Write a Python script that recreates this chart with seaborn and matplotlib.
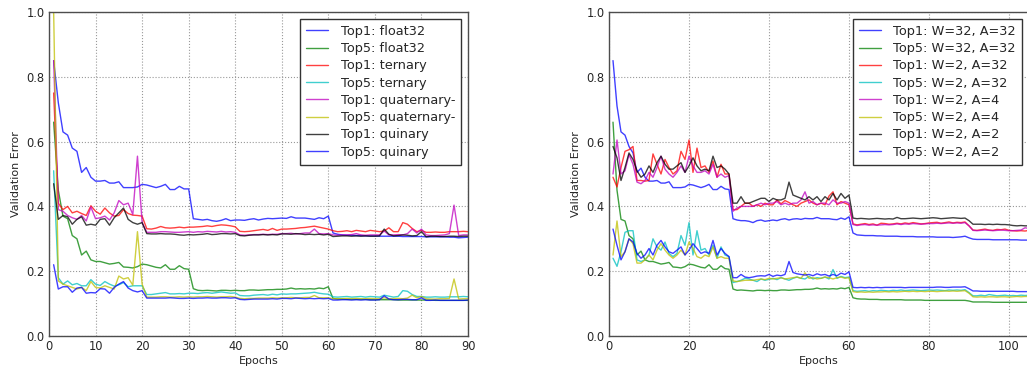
import numpy as np
import pandas as pd
import matplotlib
matplotlib.use("Agg")
import matplotlib.pyplot as plt
import seaborn as sns

# ---------------- data: left panel (epochs 1..90) ----------------
left_labels = ["Top1: float32", "Top5: float32", "Top1: ternary", "Top5: ternary",
               "Top1: quaternary-", "Top5: quaternary-", "Top1: quinary", "Top5: quinary"]

L_top1_float32 = [
    0.85, 0.72, 0.63, 0.62, 0.58, 0.57, 0.505, 0.52, 0.49, 0.478,
    0.478, 0.48, 0.472, 0.472, 0.476, 0.458, 0.458, 0.458, 0.46, 0.468,
    0.466, 0.462, 0.458, 0.462, 0.468, 0.452, 0.452, 0.462, 0.454, 0.454,
    0.362, 0.360, 0.358, 0.360, 0.356, 0.354, 0.357, 0.362, 0.356, 0.358,
    0.358, 0.357, 0.360, 0.362, 0.358, 0.361, 0.363, 0.362, 0.363, 0.364,
    0.363, 0.368, 0.364, 0.364, 0.364, 0.362, 0.360, 0.365, 0.362, 0.370,
    0.318, 0.314, 0.312, 0.311, 0.311, 0.310, 0.310, 0.309, 0.309, 0.309,
    0.308, 0.308, 0.308, 0.308, 0.308, 0.307, 0.307, 0.307, 0.307, 0.307,
    0.306, 0.306, 0.306, 0.306, 0.306, 0.305, 0.305, 0.303, 0.304, 0.305]
L_top5_float32 = [
    0.66, 0.45, 0.37, 0.362, 0.31, 0.30, 0.25, 0.262, 0.235, 0.23,
    0.23, 0.226, 0.222, 0.224, 0.227, 0.213, 0.212, 0.210, 0.214, 0.222,
    0.220, 0.216, 0.212, 0.210, 0.220, 0.206, 0.206, 0.217, 0.208, 0.206,
    0.146, 0.141, 0.140, 0.141, 0.140, 0.139, 0.141, 0.141, 0.140, 0.141,
    0.140, 0.140, 0.142, 0.142, 0.141, 0.142, 0.143, 0.143, 0.144, 0.144,
    0.145, 0.148, 0.145, 0.146, 0.145, 0.146, 0.145, 0.148, 0.146, 0.152,
    0.116, 0.114, 0.114, 0.113, 0.113, 0.113, 0.113, 0.113, 0.112, 0.112,
    0.112, 0.112, 0.112, 0.112, 0.111, 0.111, 0.111, 0.111, 0.111, 0.111,
    0.111, 0.111, 0.110, 0.110, 0.110, 0.110, 0.110, 0.110, 0.110, 0.110]
L_top1_ternary = [
    0.75, 0.41, 0.39, 0.40, 0.38, 0.385, 0.378, 0.372, 0.402, 0.385,
    0.376, 0.395, 0.38, 0.37, 0.372, 0.39, 0.378, 0.373, 0.372, 0.370,
    0.331, 0.330, 0.333, 0.338, 0.334, 0.333, 0.334, 0.336, 0.334, 0.336,
    0.336, 0.337, 0.338, 0.340, 0.338, 0.341, 0.343, 0.342, 0.340, 0.337,
    0.323, 0.322, 0.323, 0.325, 0.327, 0.329, 0.326, 0.332, 0.326, 0.330,
    0.330, 0.331, 0.332, 0.334, 0.335, 0.337, 0.339, 0.336, 0.333, 0.330,
    0.325, 0.322, 0.323, 0.325, 0.322, 0.326, 0.324, 0.322, 0.326, 0.324,
    0.322, 0.324, 0.334, 0.322, 0.322, 0.350, 0.345, 0.332, 0.322, 0.326,
    0.320, 0.320, 0.321, 0.320, 0.320, 0.322, 0.322, 0.322, 0.323, 0.322]
L_top5_ternary = [
    0.51, 0.18, 0.16, 0.17, 0.158, 0.162, 0.155, 0.155, 0.174, 0.16,
    0.156, 0.168, 0.16, 0.154, 0.158, 0.165, 0.152, 0.155, 0.155, 0.155,
    0.128, 0.128, 0.130, 0.132, 0.134, 0.130, 0.130, 0.131, 0.130, 0.132,
    0.132, 0.131, 0.133, 0.134, 0.132, 0.134, 0.136, 0.134, 0.132, 0.133,
    0.125, 0.124, 0.124, 0.126, 0.127, 0.128, 0.126, 0.129, 0.127, 0.130,
    0.129, 0.130, 0.130, 0.131, 0.132, 0.133, 0.135, 0.132, 0.130, 0.129,
    0.121, 0.120, 0.121, 0.122, 0.120, 0.121, 0.122, 0.120, 0.122, 0.121,
    0.120, 0.126, 0.123, 0.120, 0.122, 0.140, 0.138, 0.128, 0.122, 0.122,
    0.120, 0.120, 0.121, 0.120, 0.120, 0.121, 0.121, 0.121, 0.122, 0.121]
L_top1_quaternary = [
    0.85, 0.39, 0.385, 0.372, 0.365, 0.36, 0.372, 0.355, 0.398, 0.362,
    0.365, 0.37, 0.358, 0.38, 0.418, 0.405, 0.41, 0.375, 0.555, 0.35,
    0.320, 0.320, 0.320, 0.322, 0.322, 0.321, 0.320, 0.320, 0.321, 0.322,
    0.320, 0.322, 0.321, 0.323, 0.322, 0.321, 0.323, 0.321, 0.322, 0.320,
    0.312, 0.311, 0.312, 0.313, 0.313, 0.314, 0.313, 0.314, 0.314, 0.316,
    0.316, 0.317, 0.315, 0.316, 0.318, 0.318, 0.330, 0.316, 0.315, 0.316,
    0.312, 0.311, 0.312, 0.312, 0.313, 0.316, 0.312, 0.311, 0.312, 0.312,
    0.312, 0.324, 0.312, 0.312, 0.313, 0.312, 0.316, 0.330, 0.318, 0.330,
    0.312, 0.310, 0.310, 0.311, 0.312, 0.316, 0.404, 0.310, 0.312, 0.312]
L_top5_quaternary = [
    1.0, 0.17, 0.16, 0.155, 0.15, 0.145, 0.15, 0.14, 0.168, 0.15,
    0.148, 0.155, 0.15, 0.145, 0.185, 0.176, 0.18, 0.157, 0.322, 0.16,
    0.120, 0.120, 0.120, 0.121, 0.121, 0.120, 0.120, 0.121, 0.120, 0.121,
    0.120, 0.121, 0.121, 0.122, 0.121, 0.120, 0.121, 0.121, 0.122, 0.120,
    0.116, 0.115, 0.116, 0.116, 0.117, 0.117, 0.117, 0.118, 0.117, 0.118,
    0.118, 0.119, 0.118, 0.118, 0.119, 0.119, 0.125, 0.118, 0.118, 0.118,
    0.115, 0.115, 0.115, 0.116, 0.115, 0.116, 0.115, 0.115, 0.116, 0.115,
    0.115, 0.118, 0.115, 0.115, 0.116, 0.115, 0.117, 0.126, 0.118, 0.122,
    0.115, 0.114, 0.114, 0.115, 0.115, 0.116, 0.176, 0.114, 0.115, 0.115]
L_top1_quinary = [
    0.47, 0.36, 0.372, 0.368, 0.345, 0.36, 0.368, 0.342, 0.345, 0.342,
    0.36, 0.362, 0.342, 0.365, 0.38, 0.395, 0.36, 0.35, 0.345, 0.35,
    0.316, 0.315, 0.315, 0.316, 0.315, 0.315, 0.314, 0.312, 0.311, 0.313,
    0.312, 0.313, 0.314, 0.316, 0.313, 0.314, 0.316, 0.316, 0.315, 0.316,
    0.310, 0.309, 0.311, 0.312, 0.312, 0.313, 0.312, 0.313, 0.312, 0.315,
    0.315, 0.314, 0.316, 0.315, 0.313, 0.314, 0.313, 0.314, 0.312, 0.314,
    0.307, 0.308, 0.309, 0.309, 0.308, 0.309, 0.308, 0.309, 0.308, 0.308,
    0.309, 0.330, 0.314, 0.309, 0.310, 0.312, 0.311, 0.309, 0.310, 0.322,
    0.306, 0.308, 0.308, 0.307, 0.307, 0.308, 0.308, 0.307, 0.308, 0.308]
L_top5_quinary = [
    0.22, 0.145, 0.152, 0.152, 0.135, 0.148, 0.15, 0.132, 0.134, 0.133,
    0.146, 0.145, 0.132, 0.15, 0.16, 0.168, 0.148, 0.14, 0.136, 0.14,
    0.117, 0.117, 0.117, 0.117, 0.117, 0.118, 0.117, 0.116, 0.116, 0.117,
    0.116, 0.117, 0.117, 0.118, 0.117, 0.117, 0.118, 0.118, 0.117, 0.118,
    0.113, 0.112, 0.113, 0.114, 0.114, 0.114, 0.114, 0.115, 0.114, 0.116,
    0.116, 0.115, 0.117, 0.116, 0.115, 0.116, 0.115, 0.116, 0.115, 0.116,
    0.111, 0.111, 0.112, 0.112, 0.111, 0.112, 0.111, 0.112, 0.111, 0.111,
    0.112, 0.124, 0.114, 0.112, 0.112, 0.113, 0.113, 0.112, 0.112, 0.118,
    0.110, 0.110, 0.111, 0.110, 0.110, 0.110, 0.110, 0.110, 0.110, 0.111]

# ---------------- data: right panel (epochs 1..105) ----------------
right_labels = ["Top1: W=32, A=32", "Top5: W=32, A=32", "Top1: W=2, A=32", "Top5: W=2, A=32",
                "Top1: W=2, A=4", "Top5: W=2, A=4", "Top1: W=2, A=2", "Top5: W=2, A=2"]

R_top1_w32a32 = [
    0.85, 0.71, 0.63, 0.62, 0.585, 0.565, 0.505, 0.518, 0.49, 0.478,
    0.478, 0.48, 0.472, 0.472, 0.476, 0.458, 0.458, 0.458, 0.46, 0.468,
    0.466, 0.462, 0.458, 0.462, 0.468, 0.452, 0.452, 0.462, 0.454, 0.452,
    0.362, 0.358, 0.356, 0.356, 0.354, 0.350, 0.356, 0.358, 0.354, 0.356,
    0.358, 0.356, 0.360, 0.362, 0.358, 0.361, 0.362, 0.360, 0.363, 0.362,
    0.362, 0.366, 0.362, 0.362, 0.362, 0.360, 0.359, 0.364, 0.360, 0.368,
    0.318, 0.312, 0.311, 0.310, 0.310, 0.310, 0.309, 0.309, 0.308, 0.308,
    0.308, 0.308, 0.307, 0.307, 0.307, 0.307, 0.306, 0.306, 0.306, 0.306,
    0.306, 0.305, 0.305, 0.305, 0.305, 0.304, 0.305, 0.306, 0.308, 0.303,
    0.299, 0.298, 0.298, 0.298, 0.298, 0.297, 0.297, 0.297, 0.297, 0.297,
    0.297, 0.297, 0.296, 0.296, 0.296]
R_top5_w32a32 = [
    0.66, 0.45, 0.36, 0.355, 0.31, 0.30, 0.25, 0.262, 0.235, 0.23,
    0.23, 0.226, 0.222, 0.224, 0.227, 0.213, 0.212, 0.210, 0.214, 0.222,
    0.220, 0.216, 0.212, 0.210, 0.220, 0.206, 0.206, 0.217, 0.208, 0.206,
    0.145, 0.141, 0.142, 0.141, 0.140, 0.139, 0.141, 0.141, 0.140, 0.141,
    0.140, 0.140, 0.142, 0.142, 0.141, 0.142, 0.143, 0.143, 0.144, 0.144,
    0.145, 0.148, 0.145, 0.146, 0.145, 0.146, 0.145, 0.148, 0.146, 0.150,
    0.118, 0.115, 0.114, 0.114, 0.113, 0.113, 0.113, 0.112, 0.112, 0.112,
    0.112, 0.112, 0.112, 0.111, 0.111, 0.111, 0.111, 0.111, 0.110, 0.110,
    0.110, 0.110, 0.110, 0.110, 0.110, 0.110, 0.110, 0.110, 0.110, 0.108,
    0.105, 0.105, 0.105, 0.105, 0.105, 0.104, 0.104, 0.104, 0.104, 0.104,
    0.104, 0.104, 0.104, 0.104, 0.104]
R_top1_w2a32 = [
    0.49, 0.46, 0.52, 0.57, 0.575, 0.585, 0.48, 0.48, 0.478, 0.48,
    0.562, 0.53, 0.50, 0.545, 0.52, 0.50, 0.51, 0.57, 0.545, 0.605,
    0.505, 0.58, 0.52, 0.525, 0.505, 0.54, 0.49, 0.53, 0.50, 0.50,
    0.39, 0.39, 0.40, 0.41, 0.41, 0.40, 0.405, 0.40, 0.41, 0.405,
    0.405, 0.42, 0.408, 0.418, 0.412, 0.405, 0.40, 0.41, 0.415, 0.42,
    0.41, 0.405, 0.41, 0.405, 0.432, 0.445, 0.405, 0.415, 0.41, 0.405,
    0.346, 0.343, 0.345, 0.347, 0.344, 0.346, 0.342, 0.348, 0.347, 0.345,
    0.346, 0.348, 0.346, 0.349, 0.347, 0.350, 0.348, 0.346, 0.347, 0.349,
    0.350, 0.351, 0.348, 0.350, 0.352, 0.349, 0.351, 0.350, 0.352, 0.340,
    0.327, 0.326, 0.328, 0.330, 0.327, 0.326, 0.329, 0.328, 0.330, 0.326,
    0.325, 0.324, 0.325, 0.324, 0.326]
R_top5_w2a32 = [
    0.24, 0.215, 0.26, 0.32, 0.325, 0.325, 0.235, 0.23, 0.235, 0.25,
    0.30, 0.275, 0.265, 0.29, 0.255, 0.245, 0.255, 0.31, 0.28, 0.35,
    0.25, 0.325, 0.265, 0.27, 0.25, 0.28, 0.24, 0.275, 0.25, 0.245,
    0.165, 0.168, 0.172, 0.178, 0.176, 0.172, 0.168, 0.176, 0.172, 0.175,
    0.178, 0.174, 0.180, 0.176, 0.172, 0.178, 0.182, 0.178, 0.176, 0.184,
    0.176, 0.180, 0.178, 0.182, 0.176, 0.205, 0.178, 0.184, 0.180, 0.182,
    0.140, 0.138, 0.139, 0.140, 0.138, 0.140, 0.139, 0.141, 0.140, 0.139,
    0.141, 0.140, 0.142, 0.140, 0.141, 0.142, 0.141, 0.140, 0.141, 0.142,
    0.141, 0.142, 0.141, 0.140, 0.142, 0.141, 0.142, 0.141, 0.143, 0.134,
    0.124, 0.124, 0.126, 0.124, 0.128, 0.126, 0.124, 0.125, 0.126, 0.124,
    0.125, 0.124, 0.126, 0.125, 0.126]
R_top1_w2a4 = [
    0.50, 0.605, 0.50, 0.51, 0.56, 0.53, 0.475, 0.47, 0.48, 0.505,
    0.49, 0.52, 0.555, 0.515, 0.50, 0.49, 0.505, 0.525, 0.505, 0.555,
    0.525, 0.505, 0.505, 0.51, 0.50, 0.53, 0.49, 0.50, 0.49, 0.495,
    0.385, 0.395, 0.40, 0.40, 0.40, 0.40, 0.405, 0.41, 0.405, 0.41,
    0.41, 0.415, 0.405, 0.41, 0.405, 0.41, 0.41, 0.42, 0.445, 0.41,
    0.415, 0.405, 0.41, 0.41, 0.405, 0.42, 0.41, 0.41, 0.415, 0.41,
    0.344, 0.341, 0.343, 0.344, 0.342, 0.343, 0.342, 0.343, 0.344, 0.343,
    0.344, 0.346, 0.344, 0.346, 0.345, 0.347, 0.346, 0.345, 0.346, 0.347,
    0.347, 0.348, 0.347, 0.348, 0.349, 0.348, 0.349, 0.348, 0.350, 0.340,
    0.326, 0.325, 0.326, 0.327, 0.326, 0.325, 0.326, 0.327, 0.326, 0.325,
    0.325, 0.326, 0.327, 0.334, 0.332]
R_top5_w2a4 = [
    0.25, 0.355, 0.245, 0.26, 0.30, 0.285, 0.225, 0.225, 0.235, 0.25,
    0.235, 0.265, 0.285, 0.265, 0.25, 0.24, 0.25, 0.265, 0.25, 0.29,
    0.27, 0.245, 0.24, 0.25, 0.245, 0.275, 0.24, 0.245, 0.24, 0.24,
    0.170, 0.168, 0.170, 0.172, 0.172, 0.172, 0.174, 0.176, 0.174, 0.178,
    0.176, 0.178, 0.180, 0.176, 0.178, 0.180, 0.182, 0.178, 0.195, 0.178,
    0.180, 0.176, 0.178, 0.182, 0.180, 0.176, 0.180, 0.182, 0.178, 0.180,
    0.137, 0.135, 0.136, 0.135, 0.136, 0.135, 0.136, 0.136, 0.137, 0.136,
    0.137, 0.136, 0.137, 0.138, 0.137, 0.138, 0.137, 0.138, 0.137, 0.138,
    0.138, 0.137, 0.138, 0.139, 0.138, 0.139, 0.138, 0.139, 0.140, 0.132,
    0.121, 0.120, 0.121, 0.120, 0.121, 0.121, 0.120, 0.121, 0.121, 0.120,
    0.121, 0.122, 0.121, 0.122, 0.122]
R_top1_w2a2 = [
    0.585, 0.55, 0.48, 0.52, 0.565, 0.545, 0.51, 0.49, 0.50, 0.525,
    0.505, 0.535, 0.555, 0.53, 0.515, 0.515, 0.525, 0.535, 0.505, 0.525,
    0.55, 0.525, 0.51, 0.515, 0.51, 0.555, 0.52, 0.525, 0.515, 0.50,
    0.41, 0.41, 0.43, 0.41, 0.41, 0.415, 0.42, 0.425, 0.425, 0.415,
    0.425, 0.42, 0.42, 0.425, 0.475, 0.435, 0.43, 0.425, 0.42, 0.43,
    0.42, 0.43, 0.415, 0.43, 0.42, 0.44, 0.42, 0.44, 0.425, 0.435,
    0.364, 0.362, 0.363, 0.362, 0.361, 0.362, 0.363, 0.362, 0.361, 0.362,
    0.361, 0.366, 0.362, 0.362, 0.363, 0.364, 0.363, 0.362, 0.363, 0.364,
    0.365, 0.364, 0.362, 0.363, 0.364, 0.365, 0.364, 0.363, 0.364, 0.356,
    0.345, 0.345, 0.345, 0.344, 0.345, 0.344, 0.345, 0.344, 0.344, 0.343,
    0.341, 0.340, 0.341, 0.340, 0.340]
R_top5_w2a2 = [
    0.33, 0.28, 0.235, 0.26, 0.30, 0.29, 0.255, 0.24, 0.25, 0.27,
    0.25, 0.28, 0.295, 0.275, 0.26, 0.255, 0.265, 0.275, 0.25, 0.265,
    0.285, 0.27, 0.255, 0.26, 0.255, 0.295, 0.25, 0.27, 0.255, 0.245,
    0.18, 0.18, 0.19, 0.182, 0.18, 0.182, 0.185, 0.186, 0.185, 0.19,
    0.184, 0.188, 0.186, 0.19, 0.23, 0.196, 0.192, 0.19, 0.188, 0.19,
    0.186, 0.192, 0.188, 0.19, 0.185, 0.19, 0.186, 0.194, 0.19, 0.198,
    0.150, 0.149, 0.150, 0.149, 0.150, 0.149, 0.150, 0.149, 0.150, 0.150,
    0.150, 0.150, 0.150, 0.149, 0.150, 0.150, 0.150, 0.150, 0.150, 0.150,
    0.150, 0.151, 0.151, 0.150, 0.150, 0.151, 0.151, 0.151, 0.152, 0.146,
    0.139, 0.139, 0.138, 0.138, 0.138, 0.138, 0.138, 0.138, 0.138, 0.138,
    0.138, 0.137, 0.137, 0.137, 0.137]

# classic matplotlib single-letter colours (b, g, r, c, m, y, k, b) as RGB
line_colors = [(0.0, 0.0, 1.0), (0.0, 0.5, 0.0), (1.0, 0.0, 0.0), (0.0, 0.75, 0.75),
               (0.75, 0.0, 0.75), (0.75, 0.75, 0.0), (0.0, 0.0, 0.0), (0.0, 0.0, 1.0)]

left_series = [L_top1_float32, L_top5_float32, L_top1_ternary, L_top5_ternary,
               L_top1_quaternary, L_top5_quaternary, L_top1_quinary, L_top5_quinary]
right_series = [R_top1_w32a32, R_top5_w32a32, R_top1_w2a32, R_top5_w2a32,
                R_top1_w2a4, R_top5_w2a4, R_top1_w2a2, R_top5_w2a2]


def long_frame(labels, series):
    rows = []
    for lab, vals in zip(labels, series):
        for i, v in enumerate(vals):
            rows.append((i + 1, v, lab))
    return pd.DataFrame(rows, columns=["Epochs", "Validation Error", "series"])


sns.set_theme(style="white")
plt.rcParams["font.family"] = ["DejaVu Sans"]

W, H = 1027, 369
fig = plt.figure(figsize=(W / 100, H / 100), dpi=100)
ax1 = fig.add_axes([49 / W, (H - 336) / H, 419 / W, 324 / H])
ax2 = fig.add_axes([609 / W, (H - 336) / H, 420 / W, 324 / H])


def draw(ax, labels, series, xmax, xticks):
    df = long_frame(labels, series)
    pal = {lab: c for lab, c in zip(labels, line_colors)}
    sns.lineplot(data=df, x="Epochs", y="Validation Error", hue="series",
                 hue_order=labels, palette=pal, estimator=None, sort=False,
                 linewidth=1.0, alpha=0.75, ax=ax, legend=True)
    ax.set_xlim(0, xmax)
    ax.set_ylim(0, 1.0)
    ax.set_xticks(xticks)
    ax.set_yticks([0.0, 0.2, 0.4, 0.6, 0.8, 1.0])
    ax.set_yticklabels(["0.0", "0.2", "0.4", "0.6", "0.8", "1.0"])
    ax.grid(True, linestyle=":", color="0.6", linewidth=0.8)
    ax.tick_params(labelsize=8.3, direction="in", length=3, color="0.3", pad=3)
    ax.set_xlabel("Epochs", fontsize=8, labelpad=2)
    ax.set_ylabel("Validation Error", fontsize=8, labelpad=4)
    for s in ax.spines.values():
        s.set_color("0.3")
        s.set_linewidth(1.0)
    handles, labs = ax.get_legend_handles_labels()
    leg = ax.legend(handles, labs, loc="upper right", fontsize=9.3,
                    frameon=True, fancybox=False, framealpha=1.0,
                    edgecolor="0.2", labelspacing=0.33, handlelength=1.7,
                    handletextpad=1.0, borderpad=0.45, borderaxespad=0.55)
    leg.get_frame().set_linewidth(1.0)


draw(ax1, left_labels, left_series, 90, list(range(0, 91, 10)))
draw(ax2, right_labels, right_series, 105, [0, 20, 40, 60, 80, 100])

fig.savefig("out.png", dpi=100)
